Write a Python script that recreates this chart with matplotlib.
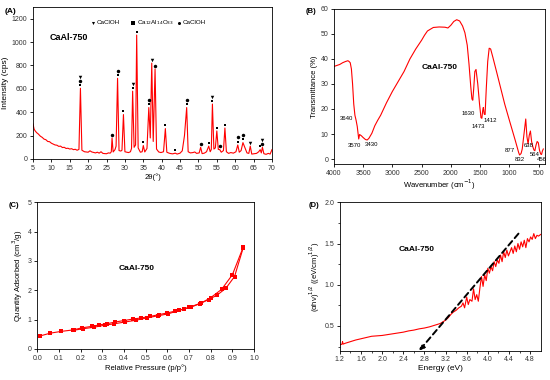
import matplotlib
matplotlib.use("Agg")
import matplotlib.pyplot as plt

plt.rcParams['font.family'] = ['Liberation Sans', 'DejaVu Sans']
plt.rcParams['font.size'] = 5

RED = '#ff0000'

# ---- (A) XRD pattern
xrd_2theta = [5, 5.3, 5.6, 6, 6.4, 7, 7.5, 8, 8.5, 9, 9.5, 10, 10.5, 11, 11.5, 12, 12.5, 13, 13.5,
              14, 14.5, 15, 15.5, 16, 16.5, 17, 17.5, 17.9, 18.3, 19, 19.5, 20, 20.5, 21, 21.5,
              22, 22.5, 23, 23.5, 24, 24.5, 25, 25.5, 26, 26.3, 26.5, 26.8, 27.3, 27.6, 28.0, 28.4,
              28.9, 29.2, 29.6, 30.0, 30.5, 31, 31.5, 31.8, 32.1, 32.5, 32.9, 33.2, 33.6, 34.2,
              34.7, 35.0, 35.4, 36.0, 36.5, 36.9, 37.3, 37.7, 38.2, 38.6, 39.2, 39.8, 40.5, 41.0,
              41.4, 42, 42.5, 43, 43.7, 44.2, 45, 45.6, 46.2, 46.8, 47.2, 47.8, 48.5, 49, 49.5,
              50.2, 50.6, 51, 51.6, 52.2, 52.8, 53.2, 53.5, 53.8, 54.2, 54.6, 55.0, 55.4, 55.8,
              56.2, 56.8, 57.2, 57.6, 58.2, 58.8, 59.5, 60.2, 60.7, 61.1, 61.6, 62.1, 62.6, 63.2,
              63.7, 64.1, 64.5, 65.2, 65.8, 66.4, 66.8, 67.1, 67.4, 67.8, 68.4, 69, 69.5, 70]
xrd_counts = [300, 255, 240, 225, 215, 195, 185, 170, 165, 150, 148, 135, 128, 120, 118, 108, 110, 98, 100,
              90, 92, 85, 88, 80, 83, 75, 82, 605, 75, 62, 60, 58, 70, 60, 56,
              52, 58, 50, 62, 48, 46, 45, 52, 50, 62, 180, 60, 80, 110, 690, 72,
              68, 75, 380, 62, 58, 55, 62, 90, 580, 100, 120, 1060, 95, 58,
              62, 115, 60, 90, 440, 180, 820, 150, 770, 85, 60, 55, 62, 260,
              58, 50, 46, 44, 50, 42, 50, 70, 200, 440, 62, 52, 55, 60, 48,
              52, 100, 46, 50, 62, 110, 62, 82, 470, 85, 95, 240, 82, 80,
              58, 72, 265, 62, 48, 55, 50, 62, 120, 58, 72, 140, 100, 52,
              48, 110, 42, 45, 48, 62, 80, 52, 100, 45, 40, 48, 42, 80]
peak_pos = [17.9, 26.5, 28.0, 29.6, 32.1, 33.2, 35.0, 36.5, 37.3, 38.2, 41.0, 43.7, 46.8,
            50.6, 52.8, 53.8, 55.0, 55.8, 57.2, 60.7, 62.1, 64.1, 66.8, 67.4]
peak_top = [605, 180, 690, 380, 580, 1060, 115, 440, 820, 770, 260, 50, 440,
            100, 110, 470, 240, 80, 265, 120, 140, 110, 80, 100]
peak_tags = ['so^', 'o', 'so', 's', 's^', 's', 's', 'so', '^', 'o', 's', 's', 'so',
             'o', 's', 's^', 's', 'o', 's', 'so', 'so', '^', 's', 'o^']
tag_marker = {'^': 'v', 's': 's', 'o': 'o'}
tag_size = {'^': 2.5, 's': 2.0, 'o': 2.5}

# ---- (B) FTIR
ir_wn = [4000, 3900, 3850, 3800, 3760, 3740, 3720, 3700, 3680, 3660, 3640, 3620, 3600, 3585, 3575,
         3560, 3530, 3500, 3460, 3430, 3400, 3350, 3300, 3250, 3200, 3100, 3000, 2900, 2800, 2700,
         2600, 2500, 2450, 2400, 2300, 2200, 2100, 2050, 2000, 1950, 1900, 1850, 1800, 1760, 1720,
         1690, 1660, 1640, 1625, 1610, 1590, 1570, 1540, 1510, 1485, 1470, 1455, 1445, 1430, 1415,
         1395, 1370, 1345, 1320, 1280, 1220, 1150, 1080, 1000, 950, 900, 870, 840, 825, 800, 780,
         760, 740, 720, 700, 680, 660, 640, 620, 600, 580, 564, 545, 525, 505, 485, 465, 450,
         435, 420]
ir_t = [37, 37.8, 38.5, 39, 39.3, 39, 38.5, 36, 30, 22, 17.5, 15.5, 13, 10, 8,
        9.8, 9.3, 8.6, 7.8, 7.6, 8.3, 10.3, 13.3, 15.5, 17.5, 22.5, 27, 31, 35, 40,
        44, 47.5, 49.5, 51.2, 52.6, 52.8, 52.7, 52.4, 53.5, 55, 55.7, 55.2, 53.2, 50.5, 45.5,
        38, 29, 24, 23.5, 28, 35, 35.8, 30, 22, 16.5, 16.3, 19.5, 20.6, 18, 17.8,
        28, 39, 44.3, 44, 40.5, 35, 28.5, 22, 15.5, 11.5, 7.5, 5, 2.5, 1.6, 2.2, 4,
        8, 12, 16, 9, 6, 9.5, 11.2, 7, 5, 3.6, 3.3, 5.5, 7, 6.5, 3.5, 2, 1.8,
        3.2, 4]
ir_labels = ['3640', '3570', '3430', '1630', '1473', '1412', '877', '832', '638', '564', '456']
ir_label_x = [3781, 3639, 3364, 1704, 1532, 1327, 996, 825, 671, 574, 442]
ir_label_y = [16, 5.3, 6, 18.1, 12.9, 15.3, 3.3, 0, 5.3, 2, 0]

# ---- (C) N2 isotherm
ads_p = [0.01, 0.06, 0.11, 0.165, 0.205, 0.25, 0.285, 0.32, 0.36, 0.40, 0.44, 0.48, 0.52,
         0.56, 0.60, 0.635, 0.675, 0.71, 0.755, 0.80, 0.85, 0.90, 0.95]
ads_q = [0.44, 0.54, 0.60, 0.65, 0.72, 0.77, 0.82, 0.86, 0.92, 0.97, 1.02, 1.06, 1.11,
         1.17, 1.23, 1.29, 1.36, 1.43, 1.56, 1.75, 2.03, 2.53, 3.47]
des_p = [0.95, 0.91, 0.87, 0.83, 0.79, 0.75, 0.70, 0.655, 0.605, 0.555, 0.505, 0.455,
         0.405, 0.355, 0.31, 0.26, 0.21, 0.17]
des_q = [3.45, 2.47, 2.07, 1.84, 1.68, 1.55, 1.42, 1.32, 1.20, 1.13, 1.06, 0.98,
         0.92, 0.86, 0.81, 0.74, 0.69, 0.64]

# ---- (D) Tauc plot
energy = [1.2, 1.24, 1.25, 1.26, 1.3, 1.4, 1.5, 1.6, 1.7, 1.8, 1.9, 2.0, 2.1, 2.2, 2.3, 2.4, 2.5,
          2.6, 2.7, 2.8, 2.9, 3.0, 3.1, 3.2, 3.25, 3.3, 3.35, 3.4, 3.45, 3.5, 3.53, 3.56, 3.6,
          3.63, 3.66, 3.7, 3.73, 3.76, 3.79, 3.82, 3.85, 3.88, 3.91, 3.94, 3.97, 4.0, 4.03,
          4.06, 4.09, 4.12, 4.15, 4.18, 4.21, 4.24, 4.27, 4.3, 4.33, 4.36, 4.39, 4.42, 4.45,
          4.48, 4.51, 4.54, 4.57, 4.6, 4.63, 4.66, 4.69, 4.72, 4.75, 4.78, 4.81, 4.84, 4.87,
          4.9, 4.93, 4.96, 5.0]
tauc = [0.27, 0.28, 0.31, 0.28, 0.29, 0.31, 0.33, 0.345, 0.36, 0.375, 0.38, 0.385, 0.395, 0.405, 0.415, 0.425, 0.44,
        0.45, 0.465, 0.475, 0.49, 0.51, 0.53, 0.57, 0.6, 0.64, 0.67, 0.69, 0.72, 0.74, 0.78, 0.72, 0.85,
        0.76, 0.82, 0.80, 0.95, 0.82, 0.88, 0.80, 0.96, 1.10, 0.98, 1.12, 1.05, 1.20, 1.14,
        1.22, 1.17, 1.28, 1.22, 1.30, 1.26, 1.36, 1.28, 1.40, 1.33, 1.42, 1.35, 1.40, 1.45,
        1.38, 1.47, 1.40, 1.50, 1.43, 1.52, 1.46, 1.54, 1.45, 1.56, 1.52, 1.58, 1.55, 1.62,
        1.56, 1.60, 1.59, 1.61]
fit_e = [2.70, 4.58]
fit_y = [0.20, 1.62]


def style(ax):
    ax.tick_params(direction='out', length=2.5, width=0.6, labelsize=5, pad=1.5, labelcolor='#333333')
    ax.tick_params(which='minor', direction='out', length=1.5, width=0.5)
    for s in ax.spines.values():
        s.set_linewidth(0.6)


fig = plt.figure(figsize=(5.5, 3.8), dpi=100)

# (A)
axA = fig.add_axes([0.060, 0.5816, 0.4345, 0.400])
axA.plot(xrd_2theta, xrd_counts, color=RED, lw=0.8)
for x, h, tags in zip(peak_pos, peak_top, peak_tags):
    for k, t in enumerate(tags):
        axA.plot(x, h + 28 + 36 * k, marker=tag_marker[t], color='black', ms=tag_size[t], mew=0, ls='none')
axA.set_xlim(5, 70)
axA.set_ylim(0, 1300)
axA.set_xticks(range(5, 71, 5))
axA.set_yticks(range(0, 1201, 200))
axA.set_xlabel('2θ(°)', fontsize=5.5, labelpad=1)
axA.set_ylabel('Intensity (cps)', fontsize=6, labelpad=2)
axA.text(0.07, 0.78, 'CaAl-750', transform=axA.transAxes, fontsize=6.5, fontweight='bold')
leg_x = [0.25, 0.42, 0.61]
leg_m = ['v', 's', 'o']
leg_t = ['CaClOH', 'Ca$_{12}$Al$_{14}$O$_{33}$', 'CaClOH']
for lx, m, t in zip(leg_x, leg_m, leg_t):
    axA.plot(lx, 0.897, marker=m, color='black', ms=2.2, mew=0, transform=axA.transAxes)
    axA.text(lx + 0.015, 0.897, t, transform=axA.transAxes, fontsize=4.5, va='center')
style(axA)
fig.text(0.008, 0.97, '(A)', fontsize=6, fontweight='bold', va='center')

# (B)
axB = fig.add_axes([0.607, 0.5684, 0.384, 0.408])
axB.plot(ir_wn, ir_t, color=RED, lw=0.8)
for t, x, y in zip(ir_labels, ir_label_x, ir_label_y):
    axB.text(x, y, t, fontsize=4.3, ha='center', va='center')
axB.set_xlim(4000, 390)
axB.set_ylim(-2, 60)
axB.set_xticks(range(4000, 499, -500))
axB.set_yticks(range(0, 61, 10))
axB.set_xlabel('Wavenumber (cm$^{-1}$)', fontsize=5.5, labelpad=1)
axB.set_ylabel('Transmittance (%)', fontsize=5.5, labelpad=2)
axB.text(0.415, 0.62, 'CaAl-750', transform=axB.transAxes, fontsize=6, fontweight='bold', va='center')
style(axB)
fig.text(0.555, 0.97, '(B)', fontsize=5.5, fontweight='bold', va='center')

# (C)
axC = fig.add_axes([0.0679, 0.0816, 0.394, 0.386])
axC.plot(ads_p, ads_q, color=RED, lw=0.8, marker='s', ms=3.3, mew=0)
axC.plot(des_p, des_q, color=RED, lw=0.8, marker='s', ms=3.3, mew=0)
axC.set_xlim(0, 1.0)
axC.set_ylim(0, 5)
axC.set_xticks([i / 10 for i in range(11)])
axC.set_yticks(range(6))
axC.set_xlabel('Relative Pressure (p/p°)', fontsize=5.5, labelpad=2)
axC.set_ylabel('Quantity Adsorbed (cm$^3$/g)', fontsize=5.5, labelpad=2)
axC.text(0.46, 0.55, 'CaAl-750', transform=axC.transAxes, fontsize=6, fontweight='bold', ha='center', va='center')
style(axC)
fig.text(0.015, 0.458, '(C)', fontsize=5.5, fontweight='bold', va='center')

# (D)
axD = fig.add_axes([0.618, 0.0771, 0.365, 0.3905])
axD.plot(energy, tauc, color=RED, lw=0.8)
axD.annotate('', xy=(fit_e[0], fit_y[0]), xytext=(fit_e[1], fit_y[1]),
             arrowprops=dict(arrowstyle='-|>', color='black', lw=1.4, ls=(0, (3, 2)),
                             mutation_scale=7, shrinkA=0, shrinkB=0))
axD.set_xlim(1.2, 5.0)
axD.set_ylim(0.2, 2.0)
axD.set_xticks([1.2, 1.6, 2.0, 2.4, 2.8, 3.2, 3.6, 4.0, 4.4, 4.8])
axD.set_yticks([0.5, 1.0, 1.5, 2.0])
axD.set_xticks([1.4, 1.8, 2.2, 2.6, 3.0, 3.4, 3.8, 4.2, 4.6], minor=True)
axD.set_yticks([0.25, 0.75, 1.25, 1.75], minor=True)
axD.set_xlabel('Energy (eV)', fontsize=6, labelpad=1.5)
axD.set_ylabel('(αhν)$^{1/2}$ ((eV/cm)$^{1/2}$)', fontsize=5.5, labelpad=2)
axD.text(0.38, 0.68, 'CaAl-750', transform=axD.transAxes, fontsize=6, fontweight='bold', ha='center', va='center')
style(axD)
fig.text(0.562, 0.458, '(D)', fontsize=5.5, fontweight='bold', va='center')

fig.savefig('out.png', dpi=100)
